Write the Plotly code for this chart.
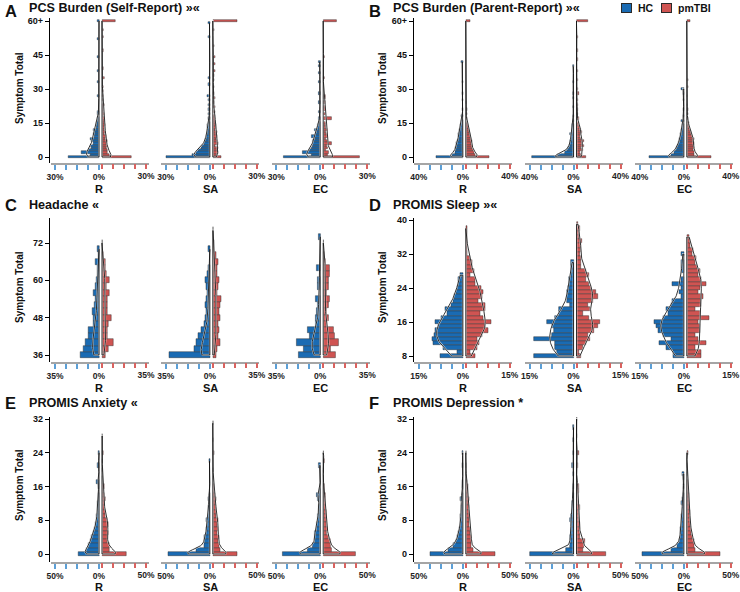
import numpy as np
import plotly.graph_objects as go

# ---- data: percent of each group falling in each score bin ----
PCS_BINS = list(range(0, 61))        # last bin = "60+"
HEAD_BINS = list(range(36, 77, 2))   # headache, 2-point bins
SLEEP_BINS = list(range(8, 41))
PROMIS_BINS = list(range(0, 33))

# A: PCS burden, self-report
A_R_HC = [21, 6, 12, 7, 5, 6, 4, 5, 6, 3,
          4, 3, 4, 2, 2, 1.5, 1, 1, 0, 0.7,
          0.7, 0, 0, 0, 0, 0, 0, 1, 0, 0,
          0, 0, 0, 0.7, 0, 0, 0, 0, 0.7, 0,
          0, 0, 0, 0, 0.7, 0, 0, 0, 0, 0,
          0, 0, 0.7, 0, 0, 0, 0, 0, 0, 0,
          1]
A_R_TBI = [20, 5, 4, 4, 3, 4, 3, 3.5, 2.5, 3,
           2, 2.5, 2, 2, 2.5, 1.5, 2, 1.5, 1, 1.5,
           1, 1, 1, 1.5, 0, 1, 0, 1, 0, 0.7,
           0, 0.7, 0, 0, 0, 1.5, 0, 0, 0, 0.7,
           0, 0, 0, 0, 0, 0, 0, 0.7, 0, 0,
           0, 0, 0, 0.7, 0, 0, 0.7, 0, 0, 0,
           9]
A_SA_HC = [30, 12, 9, 8, 6, 5, 4, 3, 3, 2.5,
           2, 2, 2, 1.5, 1.5, 1, 0, 1, 0, 0.7,
           0, 0.7, 0, 0.7, 0, 0.7, 0, 1.5, 0, 0,
           0, 0, 0.7, 0, 0, 0.7, 0, 0, 0, 0,
           0, 0, 0, 0, 0, 0, 0, 0, 0, 0,
           0, 0, 0, 1, 0, 0, 0, 0, 0, 1,
           0]
A_SA_TBI = [6, 3, 4, 3, 3.5, 2, 4, 3, 2.5, 3,
            2.5, 3, 2, 2.5, 2.5, 2, 1.5, 2, 1.5, 0,
            2, 0, 1.5, 0, 1, 0, 1.5, 0, 1, 0,
            0, 1, 0, 0, 1, 0, 1, 0, 1.5, 0,
            0, 1.5, 0, 0, 1.5, 0, 0, 0, 0, 1,
            0, 0, 0, 0, 0, 0, 1, 0, 0, 0,
            17]
A_EC_HC = [25, 6, 12, 7, 6, 5, 5, 5, 4, 6,
           3, 3, 4, 2, 1.5, 1, 0, 1, 0, 0,
           1, 0, 0, 0, 0.7, 0, 0, 0, 0.7, 0,
           0, 0, 0, 0.7, 0, 0, 0, 0.7, 0, 0,
           0.7, 0, 1] + [0] * 18
A_EC_TBI = [25, 3, 4, 2, 3, 2.5, 6, 3, 2, 3,
            2.5, 2, 3, 2, 1.5, 2, 0, 6, 0, 2,
            0, 1.5, 2, 0, 1.5, 0, 2, 2, 0, 0,
            0, 0, 0, 0, 0, 1, 0, 0, 0, 0,
            0, 0, 0, 0, 1] + [0] * 15 + [9]

# B: PCS burden, parent-report
B_R_HC = [24, 10, 7, 7, 7, 6, 6, 5, 4, 4,
          4, 3, 3, 2, 2, 1.5, 1.5, 0, 1, 0,
          0, 0.7, 0, 0, 0, 0.7, 0, 0, 0.7, 0,
          0, 0, 0, 0.7, 0, 0, 0, 0, 0, 0,
          0, 0, 1.5] + [0] * 18
B_R_TBI = [21, 9, 8, 7, 6, 6, 5, 6, 5, 4,
           4, 3, 3, 2.5, 2, 1.5, 0, 1, 0, 1,
           0, 1, 0, 0, 0.7] + [0] * 35 + [4]
B_SA_HC = [38, 14, 8, 6, 5, 4, 3, 3, 2.5, 2,
           3, 1.5, 1.5, 1, 1, 0, 0.7, 0, 0.7, 0,
           0, 0, 0.7, 0, 0, 0, 0.7, 0, 0.7, 0,
           0, 0, 0, 0.7, 0, 0, 0, 0, 0, 0,
           0.7] + [0] * 20
B_SA_TBI = [9, 4, 3.5, 6, 4, 6.5, 5, 6.5, 4, 3,
            4, 5, 4, 3, 2, 2, 0, 2, 0, 1.5,
            0, 1, 0, 1, 0, 1, 0, 0, 2, 0,
            1, 0, 0, 0, 1, 0, 0, 0, 1, 0,
            0, 0, 0, 1, 0, 0, 0, 1.5, 0, 0,
            0, 0, 0, 1.5, 0, 0, 0, 0, 0, 0,
            10]
B_EC_HC = [31, 11, 9, 8, 7, 6, 5, 4, 4, 3,
           3, 2.5, 2, 1.5, 1, 0, 2, 0, 0.7, 0,
           0, 0.7, 0, 0, 0, 0.7, 0, 0, 0.7, 0,
           2] + [0] * 30
B_EC_TBI = [22, 7, 7, 6, 7, 6, 7, 6, 7, 5,
            4, 4, 3, 2, 2, 2, 0, 1, 0, 1,
            0, 1, 0, 0.7, 0, 0, 0, 0.7, 0, 0,
            0, 1, 0, 0, 1] + [0] * 25 + [3]

# C: headache (36..76)
C_R_HC = [15, 12.5, 10.6, 8.5, 8.5, 4, 4.5, 5, 3.5, 2.5, 4, 2.5, 2, 1.5, 1, 2.5, 0.7, 1.5, 0, 0, 0]
C_R_TBI = [3, 5, 9.5, 4, 4, 5, 7.7, 4, 4, 4.5, 6, 3.7, 6, 3.7, 3, 2.5, 1.5, 0, 0.7, 0, 0]
C_SA_HC = [32, 12, 10.6, 9.3, 7, 4, 3.2, 2.6, 3.2, 2.6, 2, 2.6, 3.2, 2, 1.5, 0, 0, 1.3, 0, 0, 0]
C_SA_TBI = [2.6, 3.7, 5.8, 4.5, 5.3, 4.5, 5.8, 5.3, 5.8, 6.4, 3.2, 4.5, 4.8, 3.7, 3.7, 4.5, 2.6, 1.5, 1.5, 0.7, 0.5]
C_EC_HC = [17, 13, 19, 8.5, 9.8, 3.7, 3.2, 3, 2, 3.7, 0, 2, 2, 0, 2.6, 0, 0, 0, 0, 1, 0]
C_EC_TBI = [10, 5.8, 12, 9.3, 8, 2.6, 4, 2.6, 4, 5.3, 3, 4, 4, 4.8, 4.8, 2, 1.3, 0, 0.5, 0, 0]

# D: PROMIS sleep (8..40)
D_R_HC = [7.7, 2, 6.8, 10, 10.5, 9.8, 9.4, 8.3, 9.4, 7.2, 5.2, 6, 3.8, 3.4, 3, 2.3, 1.8,
          1.5, 1.7, 0.9] + [0] * 13
D_R_TBI = [3.1, 1.6, 3.9, 4.5, 3.9, 5.7, 7.6, 6.8, 8.75, 6.1, 5, 6.8, 6.5, 4.2, 5.7, 6.1, 5.3,
           3.1, 3.1, 1.4, 2.8, 2.3, 2.3, 1.7, 0.4, 0.4, 0.4, 0.4, 0.4, 0.4, 0.5, 0, 0]
D_SA_HC = [13.6, 5.7, 6.25, 6.25, 13.4, 7.4, 6.8, 7.4, 9.1, 6.25, 5.1, 4.8, 1.1, 2.3, 2.3, 2.3,
           2, 1.7, 1.4, 0.9, 0.7, 0.7, 0.7] + [0] * 10
D_SA_TBI = [1.4, 0.9, 2.3, 3.4, 4.5, 4, 5.9, 7.4, 8, 4.3, 2.3, 4.5, 4, 5.5, 7.4, 6.8, 5.1, 4.3,
            3.4, 4.3, 3.2, 1.7, 1.7, 1.4, 1.1, 1.7, 1.7, 1.8, 0.9, 0.7, 1.1, 0.6, 0]
D_EC_HC = [3.6, 3.6, 5.9, 8.2, 4.2, 7, 8.75, 9.5, 10.2, 7, 5.3, 5.9, 4.2, 3.9, 0.8, 1.4, 0.8,
           3.9, 0.8, 0, 0.8, 0.8, 0.8, 0, 0.8] + [0] * 8
D_EC_TBI = [5.1, 5.1, 2.8, 6.8, 4, 2.8, 4.5, 4.5, 4, 7.7, 4.5, 2.8, 4.8, 5.1, 5.5, 4, 4.5, 6.8,
            5.1, 4, 4.5, 3.6, 2.8, 3.4, 2, 2.3, 1.2, 1.1, 0.9] + [0] * 4

# E: PROMIS anxiety (0..32)
E_R_HC = [23.5, 14, 12, 10, 8.3, 6.4, 5.3, 3.8, 2.6, 2.6, 1.9, 1.5, 1.5, 1.1, 1.1, 0, 0.8,
          2.6, 0, 0, 0, 1.9, 0, 0, 0.8] + [0] * 8
E_R_TBI = [28, 9, 8.3, 6, 6, 7.2, 6, 7.6, 6, 4.5, 3.8, 3, 2.3, 3.8, 2.3, 1.5, 2.3, 0.8, 0.8,
           0, 0.8, 0, 0.8, 0, 1.5, 0, 0, 0, 0.8] + [0] * 4
E_SA_HC = [47, 15, 6.8, 6.8, 5.7, 4.5, 3.8, 3, 3.8, 1.9, 1.5, 1.5, 1.1, 1.9, 1.1, 0, 0, 0, 0,
           0, 0, 0, 0.8] + [0] * 10
E_SA_TBI = [28, 8.3, 7.6, 6.4, 7.6, 5.3, 6.4, 5.3, 6.4, 3.8, 4.5, 3.8, 2.6, 3.8, 2.6, 2, 1.5,
            0, 1.1, 0, 0.8, 0, 0, 0, 1.5, 0, 0, 0.8, 0, 0, 0, 0.5, 0]
E_EC_HC = [43, 14, 8.3, 6.4, 6.4, 6.4, 4.5, 3.8, 2.6, 2.6, 1.9, 1.5, 1.1, 2.6, 3.8, 0.8, 0,
           0, 0, 0, 0, 1.5] + [0] * 11
E_EC_TBI = [36.7, 10, 9, 8.3, 6.4, 4.5, 5.3, 4.5, 3.8, 3.8, 3.8, 2.6, 2.6, 2.6, 2.6, 1.5, 1.5,
            0, 0, 0, 0.8, 0, 1.5, 0, 0.8] + [0] * 8

# F: PROMIS depression (0..32)
F_R_HC = [37, 16, 10.6, 7.6, 6, 4.9, 3.8, 3, 2.3, 2.3, 1.5, 1.5, 1.1, 3, 1.1, 0, 0.8, 1.1,
          0, 0, 0, 0.8, 0, 0, 0.8] + [0] * 8
F_R_TBI = [34, 8.3, 6.4, 6.8, 6.4, 5.3, 5.3, 4.5, 4.5, 3.8, 3.8, 3.8, 3, 3.8, 3, 2.3, 2.3,
           1.5, 0, 0.8, 0, 0.8, 0, 0, 0.8] + [0] * 8
F_SA_HC = [49, 8.3, 4.5, 3.8, 3.8, 3, 3, 2.7, 3.8, 2.3, 1.9, 1.9, 1.5, 1.1, 1.1, 0, 0.8, 0,
           0, 0.8, 0, 1.9, 0, 0, 0.8, 0, 0, 0.5, 0, 0, 0.5] + [0] * 2
F_SA_TBI = [34, 7.6, 8.3, 9.5, 4.5, 3.8, 3.8, 3.8, 3, 3, 3, 3.8, 1.9, 1.9, 1.9, 2.3, 3, 0,
            0.8, 0, 0, 1.9, 0, 0, 2.3, 0, 0, 0, 0.5, 0, 0, 0, 0.5]
F_EC_HC = [47, 14, 7.6, 5.3, 4.5, 3.8, 3.8, 3, 2.6, 2.3, 1.5, 1.5, 2.3, 1.5, 1.1, 0, 0.8, 0,
           0.8, 1.5] + [0] * 13
F_EC_TBI = [38.6, 10, 9, 8, 6.5, 5.5, 5, 4, 4, 3.5, 3.5, 3, 3, 2.5, 2.5, 2, 2, 1.5, 0, 0.8,
            0, 0.8, 0, 0, 1.5] + [0] * 8

CONDITIONS = ["R", "SA", "EC"]
GROUPS = ["HC", "pmTBI"]

PANELS = [
    dict(letter="A", title="PCS Burden (Self-Report) »«", bins=PCS_BINS, binw=1, lim=30, bw=2.0,
         open_top=True, groups=[(A_R_HC, A_R_TBI), (A_SA_HC, A_SA_TBI), (A_EC_HC, A_EC_TBI)],
         yticks=[0, 15, 30, 45, 60], ylabels=["0", "15", "30", "45", "60+"]),
    dict(letter="B", title="PCS Burden (Parent-Report) »«", bins=PCS_BINS, binw=1, lim=40, bw=1.3,
         open_top=True, groups=[(B_R_HC, B_R_TBI), (B_SA_HC, B_SA_TBI), (B_EC_HC, B_EC_TBI)],
         yticks=[0, 15, 30, 45, 60], ylabels=["0", "15", "30", "45", "60+"]),
    dict(letter="C", title="Headache «", bins=HEAD_BINS, binw=2, lim=35, bw=3.0,
         open_top=False, groups=[(C_R_HC, C_R_TBI), (C_SA_HC, C_SA_TBI), (C_EC_HC, C_EC_TBI)],
         yticks=[36, 48, 60, 72], ylabels=["36", "48", "60", "72"]),
    dict(letter="D", title="PROMIS Sleep »«", bins=SLEEP_BINS, binw=1, lim=15, bw=2.2,
         open_top=False, groups=[(D_R_HC, D_R_TBI), (D_SA_HC, D_SA_TBI), (D_EC_HC, D_EC_TBI)],
         yticks=[8, 16, 24, 32, 40], ylabels=["8", "16", "24", "32", "40"]),
    dict(letter="E", title="PROMIS Anxiety «", bins=PROMIS_BINS, binw=1, lim=50, bw=0.9,
         open_top=False, groups=[(E_R_HC, E_R_TBI), (E_SA_HC, E_SA_TBI), (E_EC_HC, E_EC_TBI)],
         yticks=[0, 8, 16, 24, 32], ylabels=["0", "8", "16", "24", "32"]),
    dict(letter="F", title="PROMIS Depression *", bins=PROMIS_BINS, binw=1, lim=50, bw=0.9,
         open_top=False, groups=[(F_R_HC, F_R_TBI), (F_SA_HC, F_SA_TBI), (F_EC_HC, F_EC_TBI)],
         yticks=[0, 8, 16, 24, 32], ylabels=["0", "8", "16", "24", "32"]),
]

# ---- page geometry (pixels) ----
W, H = 740, 592
FONT = "Liberation Sans, Arial, Helvetica, sans-serif"
BLUE, RED = "#1a6bb3", "#cf5452"
BLUE_TICK, RED_TICK = "#5c9fd6", "#d9625f"
EDGE = "rgba(45,45,45,0.75)"

# y value -> pixel calibration per panel, from the tick labels
CAL = [((0, 157), (60, 21)), ((0, 157), (60, 21)), ((36, 355), (72, 243)),
       ((8, 356), (40, 220)), ((0, 554), (32, 419)), ((0, 554), (32, 419))]
DOMAIN_PX = [(18, 163), (218, 362), (417, 562)]
TITLE_Y = [8, 205, 403]
LETTER_TOP = [0, 194, 392]
XLAB_Y = [189, 388, 587]
YTITLE_Y = [88, 287, 485]
YAXIS_X = [49, 413]
CENTERS = [[100.5, 211.3, 321.7], [464.3, 575.0, 685.3]]
LETTER_X = [3, 367]
TITLE_X = [27, 391]
YTITLE_X = [19, 382]
T_PX, GAP_PX, LEFT_PX, RIGHT_PX = 45.5, 1.5, 50, 48
LEGEND_BOX_X = [626.5, 666.5]
LEGEND_Y = 7.5


def ref(kind, n):
    return kind if n == 1 else f"{kind}{n}"


def density(bins, vals, bw, open_top):
    n = min(len(bins), len(vals))
    b = np.array(bins[:n], float)
    v = np.array(vals[:n], float)
    nz = np.nonzero(v)[0]
    lo, hi = b[nz[0]], b[nz[-1]]
    if open_top:   # the "60+" bin is not part of the smooth
        b, v = b[:-1], v[:-1]
    ys = np.linspace(lo, hi, int((hi - lo) * 6) + 2)
    k = np.exp(-0.5 * ((ys[:, None] - b[None, :]) / bw) ** 2)
    d = (k * v[None, :]).sum(axis=1) / (bw * np.sqrt(2 * np.pi))
    return ys, d


def label(x, y, text, size, **kw):
    d = dict(x=x / W, y=1 - y / H, xref="paper", yref="paper", text=text, showarrow=False,
             xanchor="center", yanchor="middle", font=dict(size=size, family=FONT, color="#111"))
    d.update(kw)
    return d


fig = go.Figure()
axes = {}
ann = []
xi = 0
TICKFONT = dict(size=8.5, family=FONT, color="#222", weight="bold")

for p, pan in enumerate(PANELS):
    row, col = divmod(p, 2)
    top, bot = DOMAIN_PX[row]
    (va, pa), (vb, pb) = CAL[p]

    def v_of(px):
        return va + (px - pa) * (vb - va) / (pb - pa)

    yr = ref("y", p + 1)
    axes[ref("yaxis", p + 1)] = dict(
        domain=[1 - bot / H, 1 - top / H], range=[v_of(bot), v_of(top)],
        anchor="free", position=YAXIS_X[col] / W,
        showline=True, linecolor="black", linewidth=1.2,
        ticks="outside", ticklen=4, tickwidth=1, tickcolor="black",
        tickmode="array", tickvals=pan["yticks"], ticktext=pan["ylabels"],
        tickfont=dict(size=9, family=FONT, color="#111", weight="bold"),
        showgrid=False, zeroline=False, fixedrange=True)

    lim = pan["lim"]
    s = (T_PX - GAP_PX) / lim
    g = GAP_PX / s
    blue_ticks = [-(g + lim * q / 4) for q in range(4, -1, -1)]
    red_ticks = [g + lim * q / 4 for q in range(5)]

    for j, (hc, tbi) in enumerate(pan["groups"]):
        c = CENTERS[col][j]
        na, nb = 2 * xi + 1, 2 * xi + 2
        xi += 1
        xa, xb = ref("x", na), ref("x", nb)
        rng = [-LEFT_PX / s, RIGHT_PX / s]
        axes[ref("xaxis", na)] = dict(
            domain=[(c - LEFT_PX) / W, (c + RIGHT_PX) / W], range=rng, anchor=yr,
            showline=True, linecolor="#a5a5a5", linewidth=1.5,
            ticks="outside", ticklen=5, tickwidth=1.6, tickcolor=BLUE_TICK,
            tickmode="array", tickvals=blue_ticks,
            ticktext=[f"{lim}%", "", "", "", "0%"], tickfont=TICKFONT,
            showgrid=False, zeroline=False, fixedrange=True)
        # red half lives on an overlaid axis so its ticks can be red
        axes[ref("xaxis", nb)] = dict(
            overlaying=xa, range=rng, anchor=yr, side="bottom", showline=False,
            ticks="outside", ticklen=5, tickwidth=1.6, tickcolor=RED_TICK,
            tickmode="array", tickvals=red_ticks,
            ticktext=["", "", "", "", f"{lim}%"], tickfont=TICKFONT,
            showgrid=False, zeroline=False, fixedrange=True)

        for vals, color, name, sign, xr in ((hc, BLUE, GROUPS[0], -1, xa),
                                            (tbi, RED, GROUPS[1], 1, xb)):
            yb = [b for b, v in zip(pan["bins"], vals) if v > 0]
            xv = [sign * v for b, v in zip(pan["bins"], vals) if v > 0]
            fig.add_trace(go.Bar(
                y=yb, x=xv, base=sign * g, orientation="h", width=pan["binw"],
                marker=dict(color=color, line=dict(color=EDGE, width=0.6)),
                name=name, showlegend=False, xaxis=xr, yaxis=yr, hoverinfo="skip"))

        for vals, sign, xr in ((hc, -1, xa), (tbi, 1, xb)):
            ys, d = density(pan["bins"], vals, pan["bw"], pan["open_top"])
            cx = list(sign * (g + d)) + [sign * g, sign * g, sign * (g + d[0])]
            cy = list(ys) + [ys[-1], ys[0], ys[0]]
            for lc, lw in (("rgba(255,255,255,0.7)", 1.8), ("#111", 0.85)):
                fig.add_trace(go.Scatter(
                    x=cx, y=cy, mode="lines", line=dict(color=lc, width=lw),
                    showlegend=False, xaxis=xr, yaxis=yr, hoverinfo="skip"))

        ann.append(label(c - 1, XLAB_Y[row], f"<b>{CONDITIONS[j]}</b>", 11))

    ann.append(label(LETTER_X[col], LETTER_TOP[row], f"<b>{pan['letter']}</b>", 16.5,
                     xanchor="left", yanchor="top"))
    ann.append(label(TITLE_X[col], TITLE_Y[row], f"<b>{pan['title']}</b>", 12.6,
                     xanchor="left"))
    ann.append(label(YTITLE_X[col], YTITLE_Y[row], "<b>Symptom Total</b>", 10, textangle=-90))

# legend: coloured swatches + labels
for bx, name, color in zip(LEGEND_BOX_X, GROUPS, (BLUE, RED)):
    ann.append(label(bx, LEGEND_Y, " ", 6, width=9, height=8, bgcolor=color,
                     bordercolor="#2a2a2a", borderwidth=1, borderpad=0))
    ann.append(label(bx + 9.5, LEGEND_Y, f"<b>{name}</b>", 10.5, xanchor="left"))

fig.update_layout(
    template="none",
    width=W, height=H, autosize=False,
    margin=dict(l=0, r=0, t=0, b=0),
    paper_bgcolor="white", plot_bgcolor="white",
    barmode="overlay", bargap=0,
    font=dict(family=FONT, color="#111"),
    showlegend=False,
    annotations=ann,
    **axes,
)

fig.write_html("out.html", config={"displayModeBar": False},
               post_script="document.body.style.margin='0px';")
